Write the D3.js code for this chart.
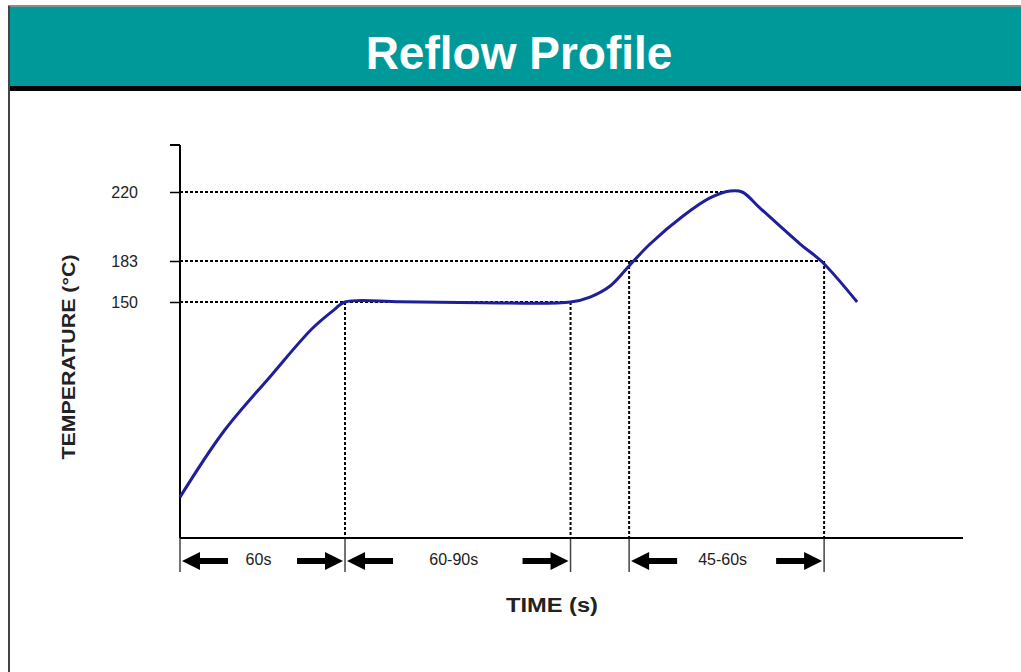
<!DOCTYPE html>
<html><head><meta charset="utf-8">
<script src="https://cdn.jsdelivr.net/npm/d3@7"></script>
<style>body{margin:0;background:#fff}svg{display:block}</style>
</head><body>
<svg id="c" width="1021" height="672"></svg>
<script>
// ---- data ----
const title = "Reflow Profile";
const yTitle = "TEMPERATURE (°C)";
const xTitle = "TIME (s)";
const profileTime = [0, 16, 33, 48, 56, 60, 80, 110, 142, 149.1, 156.4, 163.6, 170.9, 182.9, 192.7, 200, 204.4, 210.9, 225.5, 233.5, 246.2];
const profileTemp = [26, 68, 103, 133, 145, 150, 150.2, 149.6, 150, 154, 162.9, 179.8, 192.1, 207.1, 216.8, 220.5, 220, 211.4, 192.1, 182.2, 150];
const tickTemps = [150, 183, 220];
const guideTemps = [150, 183, 220];
const guideEndTimes = [142, 234.2, 200];
const markerTimes = [60, 142, 163.3, 234.2];
const markerTemps = [150, 150, 183, 183];
const spanStart = [0, 60, 163.3];
const spanEnd = [60, 142, 234.2];
const spanLabels = ["60s", "60-90s", "45-60s"];

// ---- layout ----
const svg = d3.select("#c");
const FONT = "'Liberation Sans', Arial, sans-serif";

// frame
svg.append("rect").attr("x", 9).attr("y", 6).attr("width", 1030).attr("height", 700)
  .attr("fill", "#fff").attr("stroke", "#8a8a8a").attr("stroke-width", 2);
svg.append("rect").attr("x", 10).attr("y", 7).attr("width", 1011).attr("height", 80).attr("fill", "#00999a");
svg.append("rect").attr("x", 10).attr("y", 86).attr("width", 1011).attr("height", 5).attr("fill", "#050505");
svg.append("line").attr("x1", 9).attr("x2", 9).attr("y1", 6).attr("y2", 672).attr("stroke", "#444").attr("stroke-width", 2);
svg.append("text").attr("x", 519).attr("y", 69).attr("text-anchor", "middle")
  .attr("font-family", FONT).attr("font-weight", "bold").attr("font-size", 46)
  .attr("fill", "#fff").text(title);

const x = d3.scaleLinear().domain([0, 284.7]).range([180, 963]);
const y = d3.scaleLinear().domain([0, 150, 183, 220, 245]).range([538, 302, 261, 192, 145]);

const g = svg.append("g");

// guides (dotted)
const dot = sel => sel.attr("stroke", "#000").attr("stroke-width", 2).attr("stroke-dasharray", "3,2").attr("fill", "none");
guideTemps.forEach((t, i) => {
  g.append("line").attr("x1", x(0)).attr("x2", x(guideEndTimes[i])).attr("y1", y(t)).attr("y2", y(t)).call(dot);
});
markerTimes.forEach((t, i) => {
  g.append("line").attr("x1", x(t)).attr("x2", x(t)).attr("y1", y(markerTemps[i])).attr("y2", y(0)).call(dot);
  g.append("line").attr("x1", x(t)).attr("x2", x(t)).attr("y1", y(0)).attr("y2", y(0) + 34)
    .attr("stroke", "#444").attr("stroke-width", 1.5);
});
g.append("line").attr("x1", x(0)).attr("x2", x(0)).attr("y1", y(0)).attr("y2", y(0) + 34)
  .attr("stroke", "#444").attr("stroke-width", 1.5);

// axes
g.append("line").attr("x1", x(0)).attr("x2", x(0)).attr("y1", y(245)).attr("y2", y(0)).attr("stroke", "#000").attr("stroke-width", 2);
g.append("line").attr("x1", x(0) - 10).attr("x2", x(0)).attr("y1", y(245)).attr("y2", y(245)).attr("stroke", "#000").attr("stroke-width", 2);
g.append("line").attr("x1", x(0)).attr("x2", x(284.7)).attr("y1", y(0)).attr("y2", y(0)).attr("stroke", "#000").attr("stroke-width", 2);

const yAxis = d3.axisLeft(y).tickValues(tickTemps).tickSize(10).tickPadding(32);
const ya = g.append("g").attr("transform", `translate(${x(0)},0)`).call(yAxis);
ya.select(".domain").remove();
ya.selectAll(".tick line").attr("stroke", "#000").attr("stroke-width", 1.5);
ya.selectAll(".tick text").attr("font-family", FONT).attr("font-size", 16).attr("fill", "#222");

// curve
g.append("path").datum(profileTime.map((t, i) => [t, profileTemp[i]]))
  .attr("d", d3.line().x(d => x(d[0])).y(d => y(d[1])).curve(d3.curveCatmullRom.alpha(0.5)))
  .attr("fill", "none").attr("stroke", "#1f1f99").attr("stroke-width", 3);

// span arrows
const ay = 561;
function arrow(tip, dir) {
  const hl = 18, hh = 9, sl = 46, st = 3;
  const b = tip + dir * hl, e = tip + dir * sl;
  g.append("path").attr("d",
    `M${tip},${ay} L${b},${ay - hh} L${b},${ay - st} L${e},${ay - st} L${e},${ay + st} L${b},${ay + st} L${b},${ay + hh} Z`)
    .attr("fill", "#000");
}
spanStart.forEach((s, i) => {
  const a = x(s) + 2, b = x(spanEnd[i]) - 2;
  arrow(a, 1);
  arrow(b, -1);
  g.append("text").attr("x", (a + b) / 2 - 4).attr("y", ay + 4).attr("text-anchor", "middle")
    .attr("font-family", FONT).attr("font-size", 16).attr("fill", "#222").text(spanLabels[i]);
});

// axis titles
svg.append("text").attr("transform", "translate(75,357) rotate(-90)").attr("text-anchor", "middle")
  .attr("font-family", FONT).attr("font-weight", "bold").attr("font-size", 19)
  .attr("textLength", 205).attr("lengthAdjust", "spacingAndGlyphs").attr("fill", "#222").text(yTitle);
svg.append("text").attr("x", 552).attr("y", 612).attr("text-anchor", "middle")
  .attr("font-family", FONT).attr("font-weight", "bold").attr("font-size", 20)
  .attr("textLength", 92).attr("lengthAdjust", "spacingAndGlyphs").attr("fill", "#222").text(xTitle);
</script>
</body></html>
